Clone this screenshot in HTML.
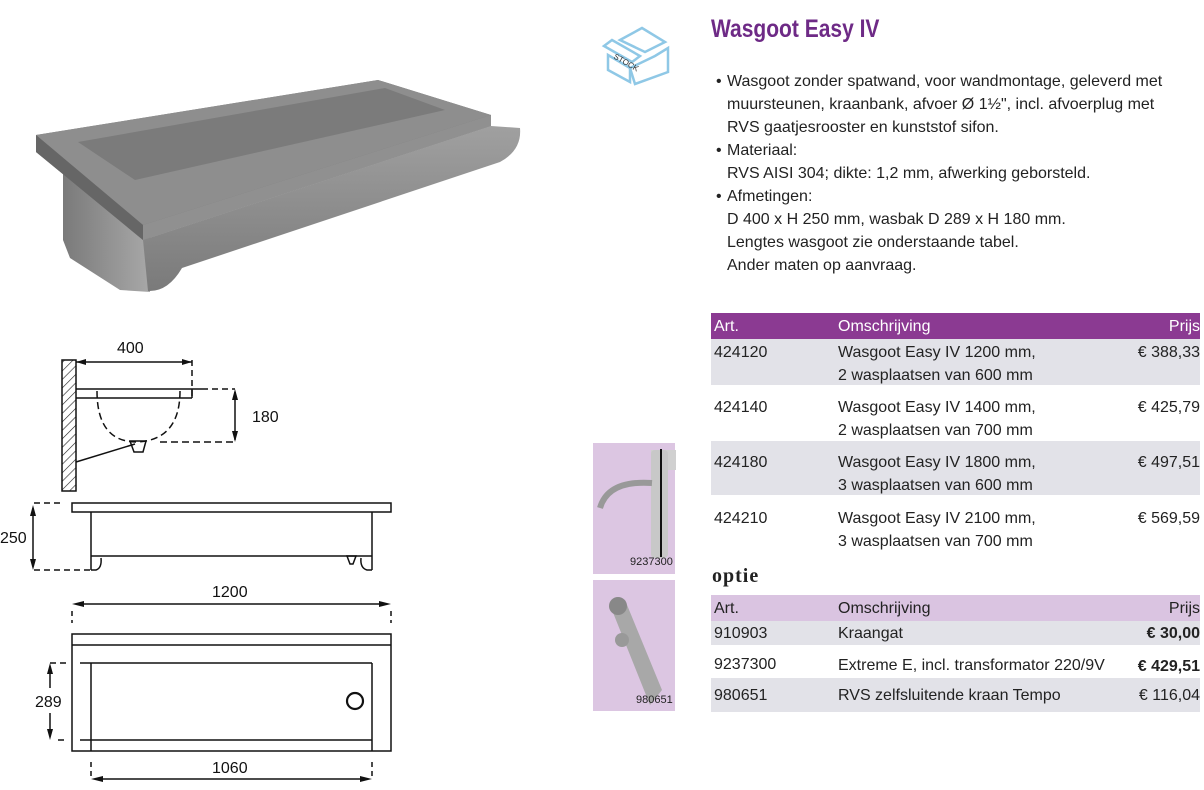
<!DOCTYPE html>
<html><head><meta charset="utf-8"><style>
body{margin:0;width:1204px;height:790px;background:#fff;position:relative;overflow:hidden;font-family:"Liberation Sans Narrow","Liberation Sans",sans-serif;color:#222}
.a{position:absolute;white-space:nowrap}
.t{font-size:16px;line-height:23px}
.r{position:absolute;left:711px;width:489px}
</style></head><body>
<svg class="a" style="left:0;top:0" width="1204" height="790">
<defs><pattern id="h" width="6" height="6" patternUnits="userSpaceOnUse" patternTransform="rotate(45)"><line x1="0" y1="0" x2="0" y2="6" stroke="#222" stroke-width="1.2"/></pattern>
<linearGradient id="g2" x1="0" y1="0" x2="0" y2="1"><stop offset="0" stop-color="#a0a0a0"/><stop offset="1" stop-color="#7a7a7a"/></linearGradient>
<linearGradient id="g3" x1="0" y1="0" x2="1" y2="0"><stop offset="0" stop-color="#7a7a7a"/><stop offset="1" stop-color="#a8a8a8"/></linearGradient></defs>
<!-- 3D sink -->
<polygon points="63,170 150,228 150,292 120,290 70,258 63,240" fill="url(#g3)"/>
<path d="M143,240 L491,126 L520,128 Q522,150 500,162 L182,268 Q168,292 148,291 Z" fill="url(#g2)"/>
<polygon points="36,135 378,80 491,115 491,126 143,240 36,152" fill="#7a7a7a"/>
<polygon points="36,135 378,80 491,115 143,225" fill="#8e8e8e"/>
<polygon points="78,142 385,88 445,110 135,180" fill="#7b7b7b"/>
<polygon points="36,135 143,225 143,240 36,152" fill="#666"/>
<polygon points="143,225 491,115 491,126 143,240" fill="#909090"/>
<!-- side section -->
<g stroke="#111" stroke-width="1.5" fill="none">
<rect x="62" y="360" width="14" height="131" fill="url(#h)"/>
<line x1="76" y1="362" x2="192" y2="362"/>
<line x1="192" y1="360" x2="192" y2="398" stroke-dasharray="6,4"/>
<line x1="76" y1="389" x2="202" y2="389"/>
<line x1="76" y1="398" x2="192" y2="398"/>
<line x1="192" y1="389" x2="192" y2="398"/>
<line x1="202" y1="389" x2="235" y2="389" stroke-dasharray="6,4"/>
<path d="M97,391 Q97,442 137,442 Q180,440 180,391" stroke-dasharray="7,4"/>
<line x1="160" y1="442" x2="235" y2="442" stroke-dasharray="7,4"/>
<line x1="235" y1="392" x2="235" y2="440"/>
<line x1="76" y1="462" x2="135" y2="444"/>
<path d="M130,441 L146,441 L143,452 L134,452 Z"/>
<!-- front view -->
<rect x="72" y="503" width="319" height="9"/>
<line x1="91" y1="512" x2="91" y2="570"/><line x1="372" y1="512" x2="372" y2="570"/>
<line x1="91" y1="556" x2="372" y2="556"/>
<path d="M91,570 L96,570 Q102,568 101,558"/><path d="M372,570 L367,570 Q360,568 361,558"/>
<path d="M347,556 L356,556 L353,564 L350,564 Z"/>
<line x1="34" y1="503" x2="62" y2="503" stroke-dasharray="6,4"/>
<line x1="34" y1="570" x2="90" y2="570" stroke-dasharray="6,4"/>
<line x1="33" y1="508" x2="33" y2="566"/>
<!-- top view -->
<line x1="76" y1="604" x2="387" y2="604"/>
<line x1="72" y1="611" x2="72" y2="623" stroke-dasharray="5,4"/><line x1="391" y1="611" x2="391" y2="623" stroke-dasharray="5,4"/>
<rect x="72" y="634" width="319" height="117"/>
<line x1="72" y1="645" x2="391" y2="645"/>
<line x1="80" y1="663" x2="372" y2="663"/><line x1="80" y1="740" x2="372" y2="740"/>
<line x1="91" y1="663" x2="91" y2="751"/><line x1="372" y1="663" x2="372" y2="751"/>
<circle cx="355" cy="701" r="8" stroke-width="2.2"/>
<line x1="50" y1="663" x2="68" y2="663" stroke-dasharray="6,4"/><line x1="58" y1="740" x2="68" y2="740" stroke-dasharray="6,4"/>
<line x1="50" y1="667" x2="50" y2="688"/><line x1="50" y1="713" x2="50" y2="736"/>
<line x1="91" y1="762" x2="91" y2="776" stroke-dasharray="5,4"/><line x1="372" y1="762" x2="372" y2="776" stroke-dasharray="5,4"/>
<line x1="95" y1="779" x2="368" y2="779"/>
</g>
<g fill="#111">
<polygon points="76,362 86,359 86,365"/><polygon points="192,362 182,359 182,365"/>
<polygon points="235,389 232,400 238,400"/><polygon points="235,442 232,431 238,431"/>
<polygon points="33,505 30,516 36,516"/><polygon points="33,570 30,559 36,559"/>
<polygon points="72,604 84,601 84,607"/><polygon points="391,604 379,601 379,607"/>
<polygon points="50,663 47,674 53,674"/><polygon points="50,740 47,729 53,729"/>
<polygon points="91,779 103,776 103,782"/><polygon points="372,779 360,776 360,782"/>
</g>
<g font-family="Liberation Sans,sans-serif" font-size="16" fill="#111">
<text x="117" y="353">400</text><text x="252" y="422">180</text><text x="0" y="543">250</text>
<text x="212" y="597">1200</text><text x="35" y="707">289</text><text x="212" y="773">1060</text></g>
<!-- stock box -->
<g stroke="#8fc8e6" stroke-width="2.5" fill="#fff">
<polygon points="620,40 642,28 665,42 645,52"/>
<polygon points="608,55 630,68 630,82 608,70"/>
<polygon points="630,68 655,56 668,48 668,72 635,84"/>
<polygon points="604,46 632,62 640,56 612,40"/>
<text x="613" y="58" font-size="8" fill="#333" stroke="none" transform="rotate(30 613 58)" font-family="Liberation Sans">STOCK</text>
</g>
<!-- product thumbs -->
<rect x="593" y="443" width="82" height="131" fill="#dcc6e2"/>
<rect x="593" y="580" width="82" height="131" fill="#dcc6e2"/>
<rect x="651" y="450" width="25" height="20" fill="#d0d0d0"/>
<rect x="651" y="450" width="17" height="108" rx="4" fill="#c8c8c8"/>
<rect x="660" y="449" width="2" height="108" fill="#111"/>
<path d="M600,508 Q608,480 652,483" stroke="#999" stroke-width="6" fill="none"/>
<path d="M610,605 L625,600 L662,690 L650,705 Z" fill="#a8a8a8"/>
<circle cx="618" cy="606" r="9" fill="#888"/><circle cx="622" cy="640" r="7" fill="#999"/>
</svg>
<div class="a" style="left:711px;top:15px;font-size:25px;font-weight:bold;color:#6e2a86;transform:scaleX(0.84);transform-origin:0 0">Wasgoot Easy IV</div>
<div class="a t" style="left:716px;top:70px">•</div>
<div class="a t" style="left:727px;top:70px">Wasgoot zonder spatwand, voor wandmontage, geleverd met<br>muursteunen, kraanbank, afvoer Ø 1½", incl. afvoerplug met<br>RVS gaatjesrooster en kunststof sifon.</div>
<div class="a t" style="left:716px;top:139px">•</div>
<div class="a t" style="left:727px;top:139px">Materiaal:<br>RVS AISI 304; dikte: 1,2 mm, afwerking geborsteld.</div>
<div class="a t" style="left:716px;top:185px">•</div>
<div class="a t" style="left:727px;top:185px">Afmetingen:<br>D 400 x H 250 mm, wasbak D 289 x H 180 mm.<br>Lengtes wasgoot zie onderstaande tabel.<br>Ander maten op aanvraag.</div>
<div class="r" style="top:313px;height:26px;background:#8b3a92"></div>
<div class="r" style="top:339px;height:46px;background:#e2e2e8"></div>
<div class="r" style="top:441px;height:54px;background:#e2e2e8"></div>
<div class="a t" style="left:714px;top:315px;color:#fff">Art.</div>
<div class="a t" style="left:838px;top:315px;color:#fff">Omschrijving</div>
<div class="a t" style="right:4px;top:315px;color:#fff">Prijs</div>
<div class="a t" style="left:714px;top:341px">424120</div><div class="a t" style="left:838px;top:341px">Wasgoot Easy IV 1200 mm,<br>2 wasplaatsen van 600 mm</div><div class="a t" style="right:4px;top:341px">€ 388,33</div>
<div class="a t" style="left:714px;top:396px">424140</div><div class="a t" style="left:838px;top:396px">Wasgoot Easy IV 1400 mm,<br>2 wasplaatsen van 700 mm</div><div class="a t" style="right:4px;top:396px">€ 425,79</div>
<div class="a t" style="left:714px;top:451px">424180</div><div class="a t" style="left:838px;top:451px">Wasgoot Easy IV 1800 mm,<br>3 wasplaatsen van 600 mm</div><div class="a t" style="right:4px;top:451px">€ 497,51</div>
<div class="a t" style="left:714px;top:507px">424210</div><div class="a t" style="left:838px;top:507px">Wasgoot Easy IV 2100 mm,<br>3 wasplaatsen van 700 mm</div><div class="a t" style="right:4px;top:507px">€ 569,59</div>
<div class="a" style="left:712px;top:565px;font-size:20px;font-weight:bold;font-family:'Liberation Serif',serif;letter-spacing:1px">optie</div>
<div class="r" style="top:595px;height:26px;background:#dac4e1"></div>
<div class="r" style="top:621px;height:24px;background:#e2e2e8"></div>
<div class="r" style="top:678px;height:34px;background:#e2e2e8"></div>
<div class="a t" style="left:714px;top:597px">Art.</div><div class="a t" style="left:838px;top:597px">Omschrijving</div><div class="a t" style="right:4px;top:597px">Prijs</div>
<div class="a t" style="left:714px;top:622px">910903</div><div class="a t" style="left:838px;top:622px">Kraangat</div><div class="a t" style="right:4px;top:622px;font-weight:bold">€ 30,00</div>
<div class="a t" style="left:714px;top:653px">9237300</div><div class="a t" style="left:838px;top:654px">Extreme E, incl. transformator 220/9V</div><div class="a t" style="right:4px;top:655px;font-weight:bold">€ 429,51</div>
<div class="a t" style="left:714px;top:684px">980651</div><div class="a t" style="left:838px;top:684px">RVS zelfsluitende kraan Tempo</div><div class="a t" style="right:4px;top:684px">€ 116,04</div>
<div class="a" style="left:630px;top:556px;font-size:11px">9237300</div>
<div class="a" style="left:636px;top:694px;font-size:11px">980651</div>
</body></html>
